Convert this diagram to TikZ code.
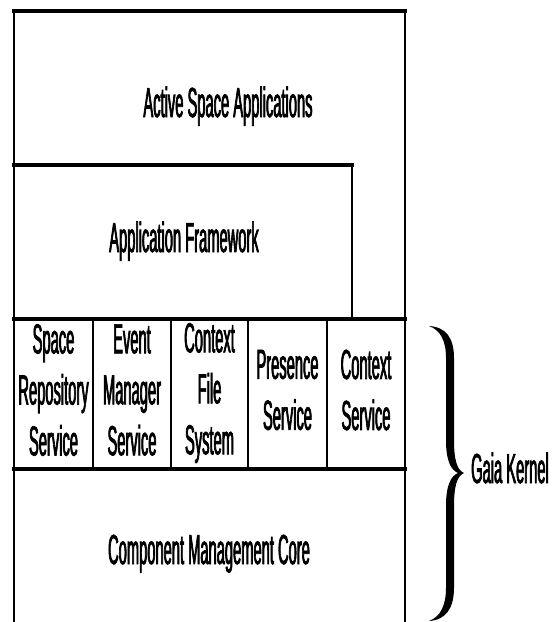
\documentclass[tikz,border=0pt]{standalone}
\usepackage{fontspec}
\newfontfamily\condfont[FakeStretch=0.35,FakeBold=1.6]{Liberation Sans}
\begin{document}
\begin{tikzpicture}[x=0.75pt,y=-0.75pt,
  hline/.style={line width=2.5pt,line cap=rect},
  vline/.style={line width=1pt},
  lbl/.style={font=\condfont\fontsize{31.5}{38.25}\selectfont,inner sep=0pt,align=center}]
\useasboundingbox (0,0) rectangle (553,622);
\fill[white] (0,0) rectangle (553,622);
% corner coordinates
\coordinate (otl) at (14,11);
\coordinate (otr) at (405,11);
\coordinate (obl) at (14,622);
\coordinate (obr) at (405,622);
\coordinate (aftl) at (14,165);
\coordinate (aftr) at (352,165);
\coordinate (afbr) at (352,319);
\coordinate (svl) at (14,319);
\coordinate (svr) at (405,319);
\coordinate (cml) at (14,469);
\coordinate (cmr) at (405,469);
\coordinate (d1t) at (93,319);  \coordinate (d1b) at (93,469);
\coordinate (d2t) at (171,319); \coordinate (d2b) at (171,469);
\coordinate (d3t) at (248,319); \coordinate (d3b) at (248,469);
\coordinate (d4t) at (327,319); \coordinate (d4b) at (327,469);
% vertical lines
\draw[vline] (otl) -- (obl);
\draw[vline] (otr) -- (obr);
\draw[vline] (aftr) -- (afbr);
\draw[vline] (d1t) -- (d1b);
\draw[vline] (d2t) -- (d2b);
\draw[vline] (d3t) -- (d3b);
\draw[vline] (d4t) -- (d4b);
% horizontal lines
\draw[hline] (otl) -- (otr);
\draw[hline] (aftl) -- (aftr);
\draw[hline] (svl) -- (svr);
\draw[hline] (cml) -- (cmr);
% texts
\node[lbl,anchor=base] (asa) at (228,117) {Active Space Applications};
\node[lbl,anchor=base] (af) at (184,252) {Application Framework};
\node[lbl] (srs) at (53.5,390) {Space\\Repository\\Service};
\node[lbl] (ems) at (132,390) {Event\\Manager\\Service};
\node[lbl] (cfs) at (209.5,393) {Context\\File\\System};
\node[lbl] (ps) at (287.5,390) {Presence\\Service};
\node[lbl] (cs) at (366,390) {Context\\Service};
\node[lbl,anchor=base] (cmc) at (209,564) {Component Management Core};
\node[lbl,anchor=base] (gk) at (510,483) {Gaia Kernel};
% brace
\fill (429,326) .. controls (446,327) and (454,338) .. (454,358)
  -- (454,440) .. controls (454,460) and (457,470) .. (464,473)
  .. controls (457,476) and (454,486) .. (454,506)
  -- (454,588) .. controls (454,608) and (446,620) .. (429,621)
  .. controls (440,617) and (446,606) .. (446,588)
  -- (446,506) .. controls (446,485) and (451,476) .. (458,473)
  .. controls (451,470) and (446,461) .. (446,440)
  -- (446,358) .. controls (446,340) and (440,330) .. (429,326) -- cycle;
\end{tikzpicture}
\end{document}
